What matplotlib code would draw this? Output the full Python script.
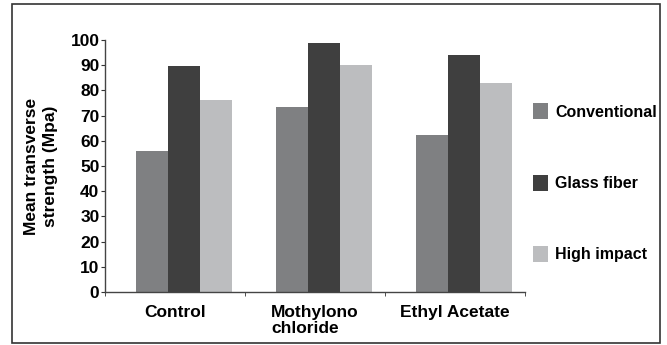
import matplotlib.pyplot as plt
from matplotlib.patches import Rectangle

plt.rcParams['font.family'] = ['Liberation Sans', 'DejaVu Sans']
plt.rcParams['font.weight'] = 'bold'

# data
groups = ['Control', 'Mothylono\nchloride', 'Ethyl Acetate']
series = ['Conventional', 'Glass fiber', 'High impact']
conventional = [56, 73.5, 62.5]
glass_fiber = [89.5, 99, 94]
high_impact = [76, 90, 83]
colors = ['#7f8082', '#3f3f3f', '#bcbdbf']

fig = plt.figure(figsize=(6.67, 3.45), dpi=100)
ax = fig.add_axes([0.1574, 0.1536, 0.63, 0.7304])

# outer frame around the whole picture
fig.patches.append(Rectangle((12 / 667, 2 / 345), 648 / 667, 339 / 345,
                             transform=fig.transFigure, fill=False,
                             edgecolor='#333333', linewidth=1.2))

width = 0.229
shift = 0.065
x = range(len(groups))
for j, (name, vals) in enumerate(zip(series, [conventional, glass_fiber, high_impact])):
    ax.bar([i + shift + (j - 1) * width for i in x], vals, width,
           color=colors[j], label=name)

ax.set_xlim(-0.5, 2.5)
ax.set_ylim(0, 100)
ax.set_yticks(range(0, 101, 10))
ax.set_xticks(list(x))
ax.set_xticklabels(groups, fontsize=12.5, fontweight='bold', linespacing=1.15,
                   va='top', ha='center', multialignment='left')
ax.set_xticks([-0.5, 0.5, 1.5, 2.5], minor=True)
ax.tick_params(axis='x', which='major', length=0, pad=9)
ax.tick_params(axis='x', which='minor', length=3, color='#333333')
ax.tick_params(axis='y', length=3, color='#333333', labelsize=12.5, pad=1)
for lab in ax.get_yticklabels():
    lab.set_fontweight('bold')

for s in ['top', 'right']:
    ax.spines[s].set_visible(False)
for s in ['left', 'bottom']:
    ax.spines[s].set_color('#444444')
    ax.spines[s].set_linewidth(1.0)

ax.set_ylabel('Mean transverse\nstrength (Mpa)', fontsize=12.5, fontweight='bold',
              linespacing=1.3, labelpad=9)

ax.legend(loc='center left', bbox_to_anchor=(0.79, 0.47),
          bbox_transform=fig.transFigure, frameon=False,
          prop={'weight': 'bold', 'size': 11.5},
          handlelength=0.9, handleheight=1.15, handletextpad=0.45,
          labelspacing=3.45, borderaxespad=0)

fig.savefig('out.png', dpi=100)
